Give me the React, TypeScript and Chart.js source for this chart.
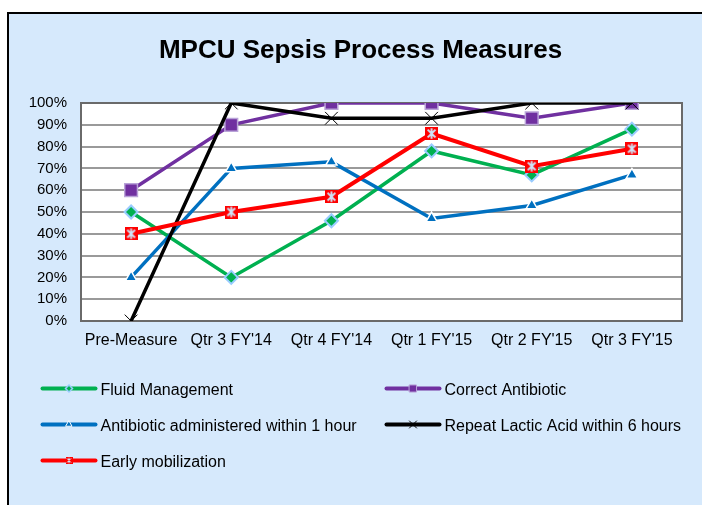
import React, { useEffect, useRef } from "react";
import { Chart, registerables } from "chart.js";
import { drawPoint } from "chart.js/helpers";

Chart.register(...registerables);

const chartTitle = "MPCU Sepsis Process Measures";
const categories = ["Pre-Measure", "Qtr 3 FY'14", "Qtr 4 FY'14", "Qtr 1 FY'15", "Qtr 2 FY'15", "Qtr 3 FY'15"];
const fluidManagement = [50, 20, 46, 78, 67, 88];
const correctAntibiotic = [60, 90, 100, 100, 93, 100];
const antibioticWithin1h = [20, 70, 73, 47, 53, 67];
const repeatLacticAcid = [0, 100, 93, 93, 100, 100];
const earlyMobilization = [40, 50, 57, 86, 71, 79];
const seriesNames = [
  "Fluid Management",
  "Correct Antibiotic",
  "Antibiotic administered within 1 hour",
  "Repeat Lactic Acid within 6 hours",
  "Early mobilization",
];
const yMin = 0;
const yMax = 100;
const yStep = 10;

const FONT = "'Liberation Sans', Arial, sans-serif";

function makeStarMarker(size: number, lw: number): HTMLCanvasElement {
  const c = document.createElement("canvas");
  c.width = size;
  c.height = size;
  const g = c.getContext("2d")!;
  g.fillStyle = "#FF0000";
  g.fillRect(0, 0, size, size);
  g.strokeStyle = "#CFE3F7";
  g.lineWidth = lw;
  const p = size * 0.2;
  g.beginPath();
  g.moveTo(p, p);
  g.lineTo(size - p, size - p);
  g.moveTo(size - p, p);
  g.lineTo(p, size - p);
  g.moveTo(size / 2, p * 0.5);
  g.lineTo(size / 2, size - p * 0.5);
  g.stroke();
  return c;
}

export default function App() {
  const ref = useRef<HTMLCanvasElement | null>(null);

  useEffect(() => {
    document.body.style.margin = "0";
    const canvas = ref.current!;
    const star = makeStarMarker(13, 2);
    const starSmall = makeStarMarker(7, 1);

    const legendMarkers: any[] = [
      { pointStyle: "rectRot", radius: 3.5, bg: "#00B050", border: "#99CCFF", bw: 1.5 },
      { pointStyle: "rect", radius: 5, bg: "#7030A0", border: "#B9A3D8", bw: 1 },
      { pointStyle: "triangle", radius: 3.5, bg: "#0070C0", border: "#FFFFFF", bw: 1 },
      { pointStyle: "crossRot", radius: 5, bg: "#000000", border: "#000000", bw: 1 },
      { pointStyle: starSmall, radius: 4, bg: "#FF0000", border: "#FF0000", bw: 1 },
    ];
    const lineColors = ["#00B050", "#7030A0", "#0070C0", "#000000", "#FF0000"];

    const deco = {
      id: "deco",
      beforeDraw(chart: any) {
        const { ctx, chartArea: a } = chart;
        ctx.save();
        ctx.fillStyle = "#FFFFFF";
        ctx.fillRect(a.left, a.top, a.right - a.left, a.bottom - a.top);
        ctx.restore();
      },
      beforeDatasetsDraw(chart: any) {
        const { ctx, chartArea: a } = chart;
        ctx.save();
        ctx.strokeStyle = "#6A6A6A";
        ctx.lineWidth = 2;
        ctx.strokeRect(a.left, a.top, a.right - a.left, a.bottom - a.top);
        ctx.restore();
      },
      afterDraw(chart: any) {
        const { ctx } = chart;
        ctx.save();
        // title
        ctx.fillStyle = "#000000";
        ctx.font = `bold 26px ${FONT}`;
        ctx.textAlign = "center";
        ctx.textBaseline = "alphabetic";
        ctx.fillText(chartTitle, 360.5, 58);
        // legend
        const cols = [42.5, 386.5];
        const rows = [388.5, 424.5, 460.5];
        chart.data.datasets.forEach((ds: any, i: number) => {
          const x0 = cols[i % 2];
          const y = rows[Math.floor(i / 2)];
          ctx.strokeStyle = lineColors[i];
          ctx.lineWidth = 4;
          ctx.lineCap = "round";
          ctx.beginPath();
          ctx.moveTo(x0, y);
          ctx.lineTo(x0 + 53, y);
          ctx.stroke();
          const m = legendMarkers[i];
          ctx.fillStyle = m.bg;
          ctx.strokeStyle = m.border;
          ctx.lineWidth = m.bw;
          drawPoint(ctx, { pointStyle: m.pointStyle, radius: m.radius, borderWidth: m.bw, rotation: 0 }, x0 + 26.5, y);
          ctx.fillStyle = "#000000";
          ctx.font = `16px ${FONT}`;
          ctx.textAlign = "left";
          ctx.textBaseline = "alphabetic";
          ctx.fillText(ds.label, x0 + 58, y + 6);
        });
        ctx.restore();
      },
    };

    const chart = new Chart(canvas, {
      type: "line",
      data: {
        labels: categories,
        datasets: [
          {
            label: seriesNames[0],
            data: fluidManagement,
            borderColor: "#00B050",
            borderWidth: 3.5,
            pointStyle: "rectRot",
            pointRadius: 6.5,
            pointBackgroundColor: "#00B050",
            pointBorderColor: "#99CCFF",
            pointBorderWidth: 2,
            order: 5,
          },
          {
            label: seriesNames[1],
            data: correctAntibiotic,
            borderColor: "#7030A0",
            borderWidth: 3.5,
            pointStyle: "rect",
            pointRadius: 9,
            pointBackgroundColor: "#7030A0",
            pointBorderColor: "#B9A3D8",
            pointBorderWidth: 1.5,
            order: 4,
          },
          {
            label: seriesNames[2],
            data: antibioticWithin1h,
            borderColor: "#0070C0",
            borderWidth: 3.5,
            pointStyle: "triangle",
            pointRadius: 6.5,
            pointBackgroundColor: "#0070C0",
            pointBorderColor: "#FFFFFF",
            pointBorderWidth: 1.5,
            order: 3,
          },
          {
            label: seriesNames[3],
            data: repeatLacticAcid,
            borderColor: "#000000",
            borderWidth: 3.5,
            pointStyle: "crossRot",
            pointRadius: 9,
            pointBackgroundColor: "#000000",
            pointBorderColor: "#000000",
            pointBorderWidth: 1,
            order: 2,
          },
          {
            label: seriesNames[4],
            data: earlyMobilization,
            borderColor: "#FF0000",
            borderWidth: 4,
            pointStyle: star as any,
            pointRadius: 7,
            pointBackgroundColor: "#FF0000",
            pointBorderColor: "#FF0000",
            order: 1,
          },
        ],
      },
      options: {
        animation: false,
        responsive: false,
        maintainAspectRatio: false,
        layout: { padding: { left: 0, right: 20, top: 103, bottom: 154 } },
        elements: { line: { tension: 0 } },
        plugins: {
          legend: { display: false },
          tooltip: { enabled: false },
          title: { display: false },
        },
        scales: {
          x: {
            type: "category",
            offset: true,
            grid: { display: false, drawTicks: false },
            border: { display: true, color: "#5A5A5A", width: 2 },
            ticks: { color: "#000000", font: { family: FONT, size: 16 }, padding: 10, maxRotation: 0, autoSkip: false },
            afterFit: (s: any) => {
              s.height = 30;
            },
          },
          y: {
            min: yMin,
            max: yMax,
            grid: { color: "#9A9A9A", lineWidth: 2, drawTicks: false },
            border: { display: true, color: "#5A5A5A", width: 2 },
            ticks: {
              stepSize: yStep,
              color: "#000000",
              font: { family: FONT, size: 15 },
              padding: 14,
              callback: (v: any) => `${v}%`,
            },
            afterFit: (s: any) => {
              s.width = 81;
            },
          },
        },
      },
      plugins: [deco],
    });
    return () => chart.destroy();
  }, []);

  return (
    <div style={{ position: "fixed", left: 0, top: 0, width: 702, height: 505, overflow: "hidden", background: "#FFFFFF" }}>
      <div
        style={{
          position: "absolute",
          left: 7,
          top: 12,
          width: 720,
          height: 520,
          border: "2px solid #000000",
          background: "#D6E9FC",
        }}
      />
      <canvas ref={ref} width={702} height={505} style={{ position: "absolute", left: 0, top: 0, width: 702, height: 505 }} />
    </div>
  );
}
